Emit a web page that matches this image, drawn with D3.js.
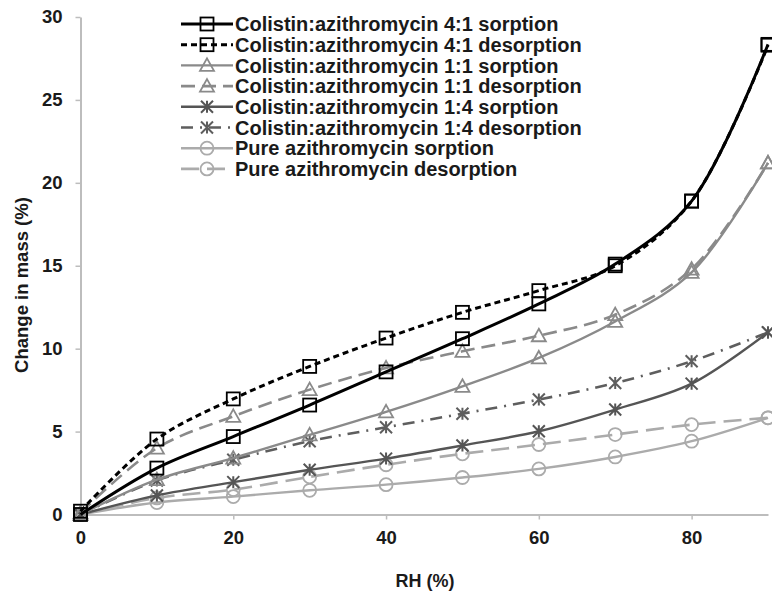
<!DOCTYPE html>
<html>
<head>
<meta charset="utf-8">
<title>Sorption isotherms</title>
<script src="https://d3js.org/d3.v7.min.js"></script>
<style>
  body { margin: 0; background: #fff; }
  text { font-family: "Liberation Sans", Arial, sans-serif; font-weight: bold; }
</style>
</head>
<body>
<svg width="772" height="600"></svg>
<script>
// RH steps (%)
const rh = [0, 10, 20, 30, 40, 50, 60, 70, 80, 90];

// change in mass (%)
const s41 = [0, 2.8, 4.7, 6.6, 8.6, 10.6, 12.7, 15.1, 18.9, 28.35];
const d41 = [0.2, 4.55, 6.97, 8.93, 10.64, 12.19, 13.5, 15.0, 18.9, 28.3];
const s11 = [0, 2.1, 3.4, 4.8, 6.19, 7.73, 9.44, 11.64, 14.6, 21.2];
const d11 = [0.1, 4.0, 5.92, 7.53, 8.84, 9.84, 10.78, 12.05, 14.8, 21.2];
const s14 = [0, 1.15, 1.95, 2.7, 3.37, 4.16, 5.02, 6.33, 7.89, 10.98];
const d14 = [0, 2.05, 3.3, 4.42, 5.26, 6.08, 6.93, 7.93, 9.24, 10.98];
const sPure = [0, 0.72, 1.08, 1.46, 1.8, 2.23, 2.75, 3.47, 4.42, 5.83];
const dPure = [0, 1.0, 1.5, 2.27, 3.0, 3.66, 4.22, 4.82, 5.42, 5.83];

const seriesNames = [
  "Colistin:azithromycin 4:1 sorption",
  "Colistin:azithromycin 4:1 desorption",
  "Colistin:azithromycin 1:1 sorption",
  "Colistin:azithromycin 1:1 desorption",
  "Colistin:azithromycin 1:4 sorption",
  "Colistin:azithromycin 1:4 desorption",
  "Pure azithromycin sorption",
  "Pure azithromycin desorption"
];
const seriesValues = [s41, d41, s11, d11, s14, d14, sPure, dPure];

const xTicks = [0, 20, 40, 60, 80];
const yTicks = [0, 5, 10, 15, 20, 25, 30];

// styling per series
const styles = [
  { color: "#000", width: 3, dash: null, marker: "square" },
  { color: "#000", width: 3, dash: "6,4", marker: "square" },
  { color: "#8a8a8a", width: 2.4, dash: null, marker: "triangle" },
  { color: "#8a8a8a", width: 2.6, dash: "14,7", marker: "triangle" },
  { color: "#555", width: 2.4, dash: null, marker: "star" },
  { color: "#5e5e5e", width: 2.6, dash: "12,7,2,7", marker: "star" },
  { color: "#ababab", width: 2.4, dash: null, marker: "circle" },
  { color: "#ababab", width: 2.6, dash: "18,8", marker: "circle" }
];

const svg = d3.select("svg");
const x = d3.scaleLinear().domain([0, 90]).range([80.5, 768]);
const y = d3.scaleLinear().domain([0, 30]).range([514.5, 17]);

// axes
const axisColor = "#bdbdbd";
const xAxis = svg.append("g")
  .attr("transform", `translate(0,${y(0)})`)
  .call(d3.axisBottom(x).tickValues(xTicks).tickSize(5).tickPadding(11).tickSizeOuter(0));
const yAxis = svg.append("g")
  .attr("transform", `translate(${x(0)},0)`)
  .call(d3.axisLeft(y).tickValues(yTicks).tickSize(5).tickPadding(13).tickSizeOuter(0));
[xAxis, yAxis].forEach(g => {
  g.select(".domain").attr("stroke", axisColor).attr("stroke-width", 2);
  g.selectAll(".tick line").attr("stroke", axisColor).attr("stroke-width", 1.5);
  g.selectAll(".tick text").attr("fill", "#1a1a1a").style("font-size", "18.5px");
});

svg.append("text")
  .attr("x", 425).attr("y", 587)
  .attr("text-anchor", "middle")
  .style("font-size", "18px").attr("fill", "#1a1a1a")
  .text("RH (%)");
svg.append("text")
  .attr("transform", `translate(28,285) rotate(-90)`)
  .attr("text-anchor", "middle")
  .style("font-size", "18.5px").attr("fill", "#1a1a1a")
  .text("Change in mass (%)");

const line = d3.line()
  .x((d, i) => x(rh[i]))
  .y(d => y(d))
  .curve(d3.curveCatmullRom.alpha(0.5));

function drawMarker(g, kind, cx, cy, color) {
  if (kind === "square") {
    g.append("rect").attr("x", cx - 6.5).attr("y", cy - 6.5).attr("width", 13).attr("height", 13)
      .attr("fill", "none").attr("stroke", color).attr("stroke-width", 1.8);
  } else if (kind === "triangle") {
    const p = d3.path();
    p.moveTo(cx, cy - 7); p.lineTo(cx + 7, cy + 5.5); p.lineTo(cx - 7, cy + 5.5); p.closePath();
    g.append("path").attr("d", p.toString()).attr("fill", "none").attr("stroke", color).attr("stroke-width", 1.8);
  } else if (kind === "circle") {
    g.append("circle").attr("cx", cx).attr("cy", cy).attr("r", 6.5)
      .attr("fill", "none").attr("stroke", color).attr("stroke-width", 1.8);
  } else {
    const r = 6;
    const p = d3.path();
    p.moveTo(cx - r, cy - r); p.lineTo(cx + r, cy + r);
    p.moveTo(cx - r, cy + r); p.lineTo(cx + r, cy - r);
    p.moveTo(cx, cy - r); p.lineTo(cx, cy + r);
    g.append("path").attr("d", p.toString()).attr("fill", "none").attr("stroke", color).attr("stroke-width", 2);
  }
}

// draw series, back to front
const order = [7, 6, 5, 4, 3, 2, 1, 0];
order.forEach(k => {
  const st = styles[k];
  const g = svg.append("g");
  g.append("path")
    .datum(seriesValues[k])
    .attr("d", line)
    .attr("fill", "none")
    .attr("stroke", st.color)
    .attr("stroke-width", st.width)
    .attr("stroke-dasharray", st.dash);
  seriesValues[k].forEach((v, i) => drawMarker(g, st.marker, x(rh[i]), y(v), st.color));
});

// legend
const legend = svg.append("g");
seriesNames.forEach((name, k) => {
  const st = styles[k];
  const ly = 24 + k * 20.7;
  const row = legend.append("g");
  row.append("line")
    .attr("x1", 181).attr("x2", 233).attr("y1", ly).attr("y2", ly)
    .attr("stroke", st.color).attr("stroke-width", st.width)
    .attr("stroke-dasharray", st.dash);
  drawMarker(row, st.marker, 207, ly, st.color);
  row.append("text")
    .attr("x", 235).attr("y", ly).attr("dy", "0.36em")
    .style("font-size", "20px").attr("fill", "#1a1a1a")
    .text(name);
});
</script>
</body>
</html>
